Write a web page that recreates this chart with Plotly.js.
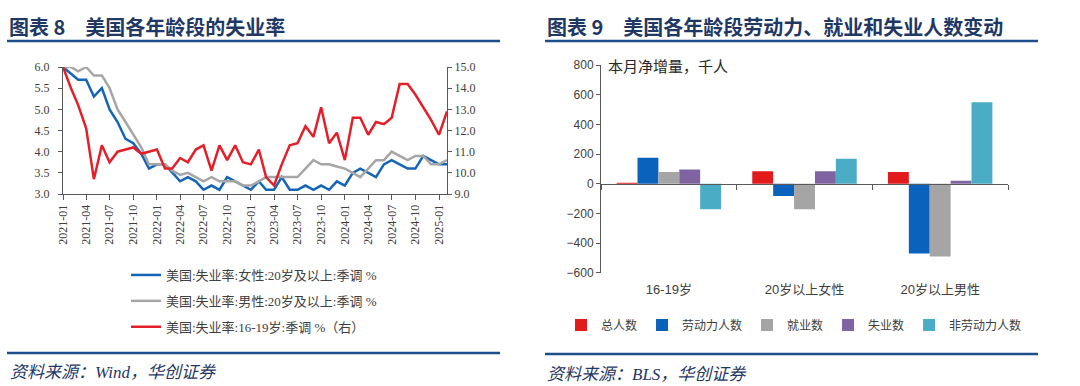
<!DOCTYPE html>
<html><head><meta charset="utf-8">
<script src="https://cdn.plot.ly/plotly-3.0.1.min.js"></script>
<style>html,body{margin:0;padding:0;background:#fff;}#chart{width:1080px;height:386px;}</style>
</head><body><div id="chart"></div>
<script>
// ---------- Left chart data (monthly, %) ----------
const months = ['2021-01','2021-02','2021-03','2021-04','2021-05','2021-06','2021-07','2021-08','2021-09','2021-10','2021-11','2021-12',
'2022-01','2022-02','2022-03','2022-04','2022-05','2022-06','2022-07','2022-08','2022-09','2022-10','2022-11','2022-12',
'2023-01','2023-02','2023-03','2023-04','2023-05','2023-06','2023-07','2023-08','2023-09','2023-10','2023-11','2023-12',
'2024-01','2024-02','2024-03','2024-04','2024-05','2024-06','2024-07','2024-08','2024-09','2024-10','2024-11','2024-12',
'2025-01','2025-02'];
const femaleRate = [6.0,5.85,5.7,5.7,5.3,5.5,5.0,4.7,4.3,4.2,3.95,3.6,3.7,3.7,3.5,3.3,3.4,3.3,3.1,3.2,3.1,3.4,3.3,3.2,3.1,3.3,3.1,3.1,3.4,3.1,3.1,3.2,3.1,3.2,3.1,3.3,3.2,3.5,3.6,3.5,3.4,3.7,3.8,3.7,3.6,3.6,3.9,3.8,3.7,3.7];
const maleRate = [6.0,6.0,5.9,6.0,5.8,5.8,5.5,5.0,4.7,4.4,4.1,3.7,3.7,3.7,3.55,3.45,3.5,3.4,3.3,3.4,3.3,3.3,3.3,3.2,3.2,3.3,3.4,3.4,3.4,3.4,3.4,3.6,3.8,3.7,3.7,3.65,3.6,3.5,3.4,3.6,3.8,3.8,4.0,3.9,3.8,3.9,3.9,3.7,3.7,3.8];
const teenRate = [15.0,14.0,13.2,12.1,9.7,11.3,10.5,11.0,11.1,11.2,10.9,11.0,11.1,10.2,10.2,10.7,10.5,11.1,11.3,10.1,11.3,10.6,11.3,10.5,10.4,11.1,9.8,9.4,10.4,11.3,11.4,12.2,11.7,13.1,11.4,11.9,10.6,12.6,12.6,11.8,12.4,12.3,12.6,14.2,14.2,13.7,13.1,12.5,11.8,12.9];
const lineNames = ['美国:失业率:女性:20岁及以上:季调 %','美国:失业率:男性:20岁及以上:季调 %','美国:失业率:16-19岁:季调 %（右）'];

// ---------- Right chart data (thousand persons) ----------
const groups = ['16-19岁','20岁以上女性','20岁以上男性'];
const barNames = ['总人数','劳动力人数','就业数','失业数','非劳动力人数'];
const totalPop = [7, 83, 78];
const laborForce = [175, -83, -470];
const employed = [78, -172, -490];
const unemployed = [96, 83, 20];
const notInLF = [-172, 168, 549];

// ---------- helpers (page pixels -> paper) ----------
const W = 1080, H = 386;
const px = x => x / W;
const py = y => 1 - y / H;

const serif = 'Liberation Serif, Noto Sans CJK SC, serif';
const sans = 'Liberation Sans, Noto Sans CJK SC, sans-serif';
const cjk = 'Noto Sans CJK SC, sans-serif';
const axisCol = '#595959';
const txtCol = '#404040';
const navy = '#1F3864';

const lineColors = ['#1565B7', '#A6A6A6', '#E3202A'];
const barColors = ['#E31A1C', '#0B62BC', '#A5A5A5', '#8064A2', '#4BACC6'];

const traces = [
  {type:'scatter', mode:'lines', x:months, y:femaleRate, name:lineNames[0], xaxis:'x', yaxis:'y',
   line:{color:lineColors[0], width:2.5}, legend:'legend', legendgroup:'a'},
  {type:'scatter', mode:'lines', x:months, y:maleRate, name:lineNames[1], xaxis:'x', yaxis:'y',
   line:{color:lineColors[1], width:2.5}, legend:'legend', legendgroup:'b'},
  {type:'scatter', mode:'lines', x:months, y:teenRate, name:lineNames[2], xaxis:'x', yaxis:'y2',
   line:{color:lineColors[2], width:2.5}, legend:'legend', legendgroup:'c'}
];
const barSeries = [totalPop, laborForce, employed, unemployed, notInLF];
barSeries.forEach((vals, i) => {
  traces.push({type:'bar', x:groups, y:vals, name:barNames[i], xaxis:'x3', yaxis:'y3',
    marker:{color:barColors[i]}, legend:'legend2'});
});
// helper trace so the zero-line category axis has categories
traces.push({type:'scatter', mode:'markers', x:groups, y:[0,0,0], xaxis:'x4', yaxis:'y3',
  marker:{opacity:0}, showlegend:false, hoverinfo:'skip'});

const y3Range = [-600, 800];
const y3Dom = [py(272.7), py(65)];
const zeroPos = y3Dom[0] + (0 - y3Range[0]) / (y3Range[1] - y3Range[0]) * (y3Dom[1] - y3Dom[0]);

const layout = {
  width: W, height: H,
  margin: {l:0, r:0, t:0, b:0},
  paper_bgcolor: '#fff', plot_bgcolor: 'rgba(0,0,0,0)',
  showlegend: true,
  barmode: 'group', bargap: 0.23, bargroupgap: 0,
  xaxis: {domain:[px(63), px(447)], anchor:'y', type:'date',
    range:['2021-01-01','2025-02-01'], tick0:'2021-01-01', dtick:'M3', tickformat:'%Y-%m',
    tickangle:-90, ticks:'outside', ticklen:5, tickcolor:axisCol, showline:true, linecolor:axisCol,
    linewidth:1, showgrid:false, zeroline:false, tickfont:{family:serif, size:12, color:txtCol}},
  yaxis: {domain:[py(194), py(67)], anchor:'x', range:[3,6], dtick:0.5, tickformat:'.1f',
    ticks:'outside', ticklen:4, tickcolor:axisCol, showline:true, linecolor:axisCol, showgrid:false,
    zeroline:false, ticklabelstandoff:6, tickfont:{family:serif, size:12, color:txtCol}},
  yaxis2: {overlaying:'y', side:'right', anchor:'x', range:[9,15], dtick:1, tickformat:'.1f',
    ticks:'outside', ticklen:4, tickcolor:axisCol, showline:true, linecolor:axisCol, showgrid:false,
    zeroline:false, tickfont:{family:serif, size:12, color:txtCol}},
  xaxis3: {domain:[px(601), px(1008)], anchor:'y3', type:'category', showline:false, ticks:'',
    showgrid:false, zeroline:false, ticklabelstandoff:7, tickfont:{family:sans, size:13, color:txtCol}},
  xaxis4: {overlaying:'x3', anchor:'free', position:zeroPos, type:'category', range:[-0.5, 2.5],
    showline:true, linecolor:axisCol, linewidth:1, ticks:'outside', tickson:'boundaries', ticklen:5,
    tickcolor:axisCol, showticklabels:false, showgrid:false, zeroline:false},
  yaxis3: {domain:y3Dom, anchor:'x3', range:y3Range, dtick:200, ticks:'outside', ticklen:4,
    tickcolor:axisCol, showline:true, linecolor:axisCol, showgrid:false, zeroline:false,
    tickfont:{family:sans, size:12, color:txtCol}},
  legend: {x:px(126), xanchor:'left', y:py(260), yanchor:'top', orientation:'v',
    traceorder:'grouped', tracegroupgap:6, bgcolor:'rgba(0,0,0,0)',
    font:{family:serif, size:13, color:txtCol}},
  legend2: {x:px(794), xanchor:'center', y:py(325), yanchor:'middle', orientation:'h',
    bgcolor:'rgba(0,0,0,0)', font:{family:serif, size:12, color:txtCol}},
  annotations: [
    {xref:'paper', yref:'paper', x:px(7), y:py(26), xanchor:'left', yanchor:'middle', showarrow:false,
     text:'图表 8　美国各年龄段的失业率', font:{family:cjk, size:20, color:navy, weight:'bold'}},
    {xref:'paper', yref:'paper', x:px(545), y:py(26), xanchor:'left', yanchor:'middle', showarrow:false,
     text:'图表 9　美国各年龄段劳动力、就业和失业人数变动', font:{family:cjk, size:20, color:navy, weight:'bold'}},
    {xref:'paper', yref:'paper', x:px(8), y:py(372), xanchor:'left', yanchor:'middle', showarrow:false,
     text:'资料来源：Wind，华创证券', font:{family:serif, size:17, color:navy, style:'italic'}},
    {xref:'paper', yref:'paper', x:px(545), y:py(374), xanchor:'left', yanchor:'middle', showarrow:false,
     text:'资料来源：BLS，华创证券', font:{family:serif, size:17, color:navy, style:'italic'}},
    {xref:'paper', yref:'paper', x:px(606), y:py(66), xanchor:'left', yanchor:'middle', showarrow:false,
     text:'本月净增量，千人', font:{family:cjk, size:15, color:'#262626'}}
  ],
  shapes: [
    {type:'line', xref:'paper', yref:'paper', x0:px(7), x1:px(500), y0:py(41), y1:py(41), line:{color:'#1F4E8C', width:2.5}},
    {type:'line', xref:'paper', yref:'paper', x0:px(545), x1:px(1038), y0:py(41), y1:py(41), line:{color:'#1F4E8C', width:2.5}},
    {type:'line', xref:'paper', yref:'paper', x0:px(7), x1:px(500), y0:py(353), y1:py(353), line:{color:'#1F4E8C', width:2.5}},
    {type:'line', xref:'paper', yref:'paper', x0:px(545), x1:px(1038), y0:py(354), y1:py(354), line:{color:'#1F4E8C', width:2.5}}
  ]
};

Plotly.newPlot('chart', traces, layout, {displayModeBar:false, staticPlot:true});
</script>
</body></html>
